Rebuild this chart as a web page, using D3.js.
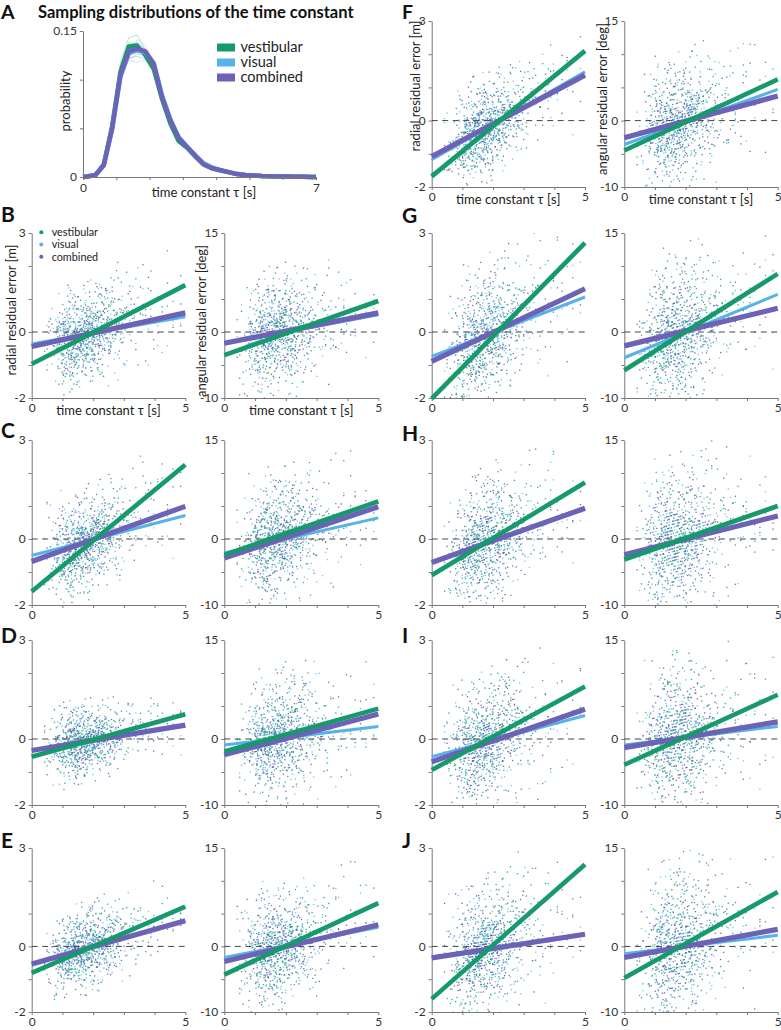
<!DOCTYPE html>
<html><head><meta charset="utf-8">
<script src="https://cdn.jsdelivr.net/npm/d3@7"></script>
<style>body{margin:0;background:#fff} svg text{font-family:Lato,"Open Sans",sans-serif}</style>
</head><body><svg id="c" width="781" height="1030"></svg>
<script>
// ---------- DATA ----------
const seriesNames = ["vestibular", "visual", "combined"];
const seriesColors = ["#16996b", "#56b2e8", "#6c63b7"];
const dotColors = ["#1a9e70", "#5bb8ea", "#5b51b0"];

// Panel A: sampling distributions of tau
const distTau = [0,0.125,0.375,0.625,0.875,1.125,1.375,1.625,1.875,2.125,2.375,2.625,2.875,3.125,3.375,3.625,3.875,4.125,4.375,4.625,4.875,5.125,5.375,5.625,5.875,6.125,6.375,6.625,6.875,7];
const distVest = [0,0.0005,0.002,0.013,0.052,0.108,0.134,0.135,0.125,0.111,0.080,0.055,0.037,0.030,0.021,0.013,0.009,0.007,0.005,0.003,0.002,0.0015,0.001,0.0008,0.0006,0.0004,0.0003,0.0002,0.0001,0];
const distVis  = [0,0.0005,0.002,0.012,0.049,0.103,0.127,0.130,0.128,0.117,0.084,0.059,0.041,0.031,0.022,0.014,0.010,0.007,0.005,0.003,0.002,0.0015,0.001,0.0008,0.0006,0.0004,0.0003,0.0002,0.0001,0];
const distComb = [0,0.0005,0.002,0.012,0.050,0.105,0.129,0.132,0.129,0.116,0.082,0.058,0.040,0.031,0.022,0.013,0.009,0.007,0.005,0.003,0.002,0.0015,0.001,0.0008,0.0006,0.0004,0.0003,0.0002,0.0001,0];
const sampVest = [
 [0,0.0005,0.003,0.016,0.06,0.118,0.143,0.146,0.13,0.11,0.078,0.052,0.036,0.028,0.02,0.012,0.008,0.006,0.004,0.003,0.002,0.0015,0.001,0.0007,0.0005,0.0003,0.0002,0.0001,0.0001,0],
 [0,0.0004,0.002,0.01,0.045,0.1,0.122,0.124,0.121,0.112,0.085,0.06,0.042,0.032,0.023,0.015,0.01,0.007,0.005,0.004,0.003,0.002,0.0012,0.0009,0.0006,0.0004,0.0003,0.0002,0.0001,0],
 [0,0.0006,0.003,0.014,0.055,0.112,0.138,0.137,0.126,0.108,0.079,0.054,0.038,0.029,0.021,0.013,0.009,0.006,0.005,0.003,0.002,0.0014,0.001,0.0008,0.0005,0.0004,0.0003,0.0002,0.0001,0]];
const sampVis = [
 [0,0.0005,0.002,0.011,0.047,0.1,0.124,0.141,0.135,0.118,0.085,0.06,0.041,0.031,0.022,0.014,0.01,0.007,0.005,0.003,0.002,0.0015,0.001,0.0008,0.0006,0.0004,0.0003,0.0002,0.0001,0],
 [0,0.0004,0.002,0.013,0.052,0.106,0.12,0.118,0.12,0.114,0.088,0.063,0.044,0.033,0.024,0.015,0.01,0.008,0.006,0.004,0.003,0.002,0.0013,0.0009,0.0006,0.0004,0.0003,0.0002,0.0001,0],
 [0,0.0006,0.003,0.015,0.056,0.11,0.132,0.136,0.128,0.112,0.08,0.056,0.039,0.03,0.021,0.013,0.009,0.006,0.005,0.003,0.002,0.0014,0.001,0.0007,0.0005,0.0003,0.0002,0.0002,0.0001,0]];
const sampComb = [
 [0,0.0005,0.002,0.012,0.05,0.104,0.13,0.139,0.131,0.114,0.081,0.057,0.04,0.031,0.022,0.013,0.009,0.007,0.005,0.003,0.002,0.0015,0.001,0.0008,0.0006,0.0004,0.0003,0.0002,0.0001,0],
 [0,0.0004,0.002,0.011,0.046,0.098,0.121,0.126,0.127,0.118,0.087,0.061,0.043,0.033,0.023,0.014,0.01,0.007,0.005,0.004,0.003,0.002,0.0012,0.0009,0.0006,0.0004,0.0003,0.0002,0.0001,0],
 [0,0.0006,0.003,0.014,0.054,0.11,0.135,0.133,0.124,0.11,0.079,0.055,0.038,0.03,0.021,0.013,0.009,0.006,0.004,0.003,0.002,0.0014,0.001,0.0007,0.0005,0.0003,0.0002,0.0001,0.0001,0]];
const distXTicks = [0,1,2,3,4,5,6,7];
const distYTicks = [0,0.05,0.1,0.15];

// Panels B-J: regression lines, value at tau=0 and tau=5
const panelLetters = ["B","C","D","E","F","G","H","I","J"];
const radialVest = [[-0.97,1.42],[-1.59,2.25],[-0.54,0.75],[-0.81,1.21],[-1.68,2.1],[-2.02,2.7],[-1.1,1.71],[-0.94,1.59],[-1.6,2.5]];
const radialVis  = [[-0.36,0.46],[-0.5,0.71],[-0.33,0.39],[-0.54,0.78],[-1.18,1.47],[-0.74,1.06],[-0.71,0.93],[-0.54,0.71],[-0.33,0.37]];
const radialComb = [[-0.44,0.58],[-0.68,0.99],[-0.35,0.42],[-0.54,0.78],[-1.08,1.37],[-0.89,1.31],[-0.71,0.93],[-0.69,0.9],[-0.35,0.37]];
const angularVest = [[-3.5,4.7],[-2.4,5.7],[-1.9,4.6],[-4.3,6.6],[-4.5,6.2],[-5.8,8.8],[-3.1,5.0],[-3.9,6.7],[-4.8,8.3]];
const angularVis  = [[-1.8,2.6],[-2.1,3.2],[-0.9,1.9],[-1.7,2.9],[-3.6,4.7],[-3.9,5.7],[-2.4,3.5],[-0.9,1.9],[-1.1,1.7]];
const angularComb = [[-1.7,2.9],[-2.9,4.9],[-2.4,3.8],[-2.3,3.3],[-2.6,3.7],[-2.1,3.6],[-2.4,3.5],[-1.3,2.6],[-1.7,2.6]];
const radialSpread  = [0.6,0.6,0.45,0.5,0.6,0.85,0.8,0.8,0.8];
const angularSpread = [3.6,3.8,3.8,3.6,3.8,4.6,4.6,4.6,5.0];

const radialTicks = [-2,-1,0,1,2,3];
const radialTickLabels = ["-2","","0","","","3"];
const angularTicks = [-10,-5,0,5,10,15];
const angularTickLabels = ["-10","","0","","","15"];
const tauTicks = [0,1,2,3,4,5];
const tauTickLabels = ["0","","","","","5"];

// Scatter cloud samples (time constant, standardized residual)
const tauSample = [0.42,0.5,0.56,0.61,0.66,0.7,0.74,0.78,0.8,0.82,0.83,0.85,0.86,0.88,0.9,0.91,0.93,0.95,0.97,0.99,
1.0,1.01,1.02,1.03,1.04,1.05,1.06,1.07,1.08,1.09,1.1,1.11,1.12,1.13,1.14,1.15,1.16,1.17,1.18,1.19,
1.2,1.21,1.21,1.22,1.23,1.24,1.25,1.25,1.26,1.27,1.28,1.29,1.29,1.3,1.31,1.32,1.33,1.33,1.34,1.35,1.36,1.37,1.37,1.38,1.39,1.39,
1.4,1.41,1.41,1.42,1.43,1.43,1.44,1.45,1.46,1.46,1.47,1.48,1.49,1.49,1.5,1.51,1.52,1.52,1.53,1.54,1.55,1.55,1.56,1.57,1.58,1.58,1.59,1.6,
1.61,1.61,1.62,1.63,1.63,1.64,1.65,1.66,1.66,1.67,1.68,1.69,1.69,1.7,1.71,1.72,1.72,1.73,1.74,1.75,1.75,1.76,1.77,1.78,1.78,1.79,1.8,1.8,
1.81,1.82,1.83,1.83,1.84,1.85,1.86,1.87,1.88,1.88,1.89,1.9,1.91,1.92,1.92,1.93,1.94,1.95,1.96,1.96,1.97,1.98,1.99,1.99,2.0,2.0,
2.01,2.02,2.03,2.04,2.05,2.06,2.07,2.08,2.09,2.1,2.11,2.12,2.13,2.14,2.15,2.16,2.17,2.17,2.18,2.19,2.2,2.2,
2.21,2.22,2.23,2.24,2.26,2.27,2.28,2.29,2.3,2.31,2.32,2.33,2.34,2.35,2.36,2.37,2.38,2.39,
2.41,2.42,2.44,2.45,2.47,2.48,2.5,2.51,2.53,2.54,2.56,2.57,2.58,2.6,
2.62,2.64,2.66,2.68,2.7,2.72,2.74,2.76,2.78,2.8,2.82,2.85,2.87,2.9,2.92,2.95,2.97,3.0,
3.04,3.09,3.14,3.19,3.24,3.29,3.34,3.39,3.46,3.54,3.62,3.71,3.8,3.88,3.97,4.1,4.25,4.42,4.6,4.85];
const noiseSample = [0.3,-1.2,0.8,-0.1,1.6,-0.6,0.0,-2.1,0.5,1.1,
-0.4,0.2,-0.9,2.3,-0.2,0.7,-1.5,0.1,-0.7,0.4,
1.3,-0.3,0.6,-1.8,0.9,-0.5,0.2,1.9,-1.0,-0.1,
0.0,0.5,-1.3,0.3,-0.8,1.2,-0.2,0.7,2.7,-0.6,
-1.1,0.1,0.4,-0.4,1.5,-2.4,0.6,-0.3,0.9,-0.9,
0.2,-0.7,1.0,-0.1,-1.6,0.3,2.0,-0.5,0.0,0.8,
-0.3,1.4,-1.2,0.5,-0.2,0.1,-0.8,1.7,-1.4,0.4,
0.6,-0.6,0.2,-1.9,1.1,-0.4,0.3,-1.0,2.2,-0.1,
-0.5,0.9,-0.2,0.0,-1.3,1.3,-0.7,0.4,-2.6,0.7,
0.1,-1.1,1.8,-0.3,0.5,-0.8,0.2,1.0,-0.4,-1.7,
0.8,0.0,-0.6,1.2,-1.5,0.3,-0.1,2.5,-0.9,0.6,
-0.2,0.4,1.6,-1.2,0.1,-0.5,0.9,-2.0,0.3,-0.7,
1.0,-0.3,0.2,0.7,-1.0,1.4,-0.2,-0.6,0.5,-1.4,
-0.8,2.1,-0.1,0.4,0.0,-1.7,0.8,-0.4,1.1,0.2,
0.5,-0.9,1.3,-0.2,-2.2,0.6,-0.5,0.1,1.5,-1.1,
-0.4,0.3,-1.3,0.9,0.2,-0.7,2.4,-0.3,0.0,0.7,
0.4,-1.6,0.1,1.1,-0.6,0.5,-1.0,0.2,-0.1,1.9,
-0.7,0.6,-0.2,-1.4,1.7,0.0,0.3,-0.9,0.8,-0.3,
1.2,-0.1,-2.3,0.4,-0.5,0.9,-1.2,0.1,2.0,-0.6,
0.0,-0.4,0.7,-1.8,0.3,1.0,-0.2,0.5,-1.1,1.4,
-0.9,0.2,1.6,-0.3,0.6,-1.5,0.1,-0.7,0.8,2.9,
0.3,-1.3,-0.1,1.0,-0.6,0.4,1.8,-0.2,-0.8,0.0,
-1.9,0.7,0.2,-0.4,1.3,-1.0,0.5,0.1,-2.8,0.6,
0.9,-0.5,-0.3,1.5,0.0,-1.2,0.3,2.2,-0.1,-0.6];
const passMultipliers = [1, 7, 13, 19];

// ---------- LAYOUT ----------
const svg = d3.select("#c");
const defs = svg.append("defs");
const axisColor = "#777", tickTextColor = "#333", labelColor = "#222";
const plotCols = [[31.7,185.3],[224.3,378.3],[431.7,585],[624.3,777.7]];
const plotRows = [[21,187],[233,398],[440,605],[640,805],[848,1012]];
let clipCount = 0;

function styleAxis(g) {
  g.select(".domain").attr("stroke", axisColor).attr("stroke-width", 1);
  g.selectAll(".tick line").attr("stroke", axisColor);
  g.selectAll(".tick text").attr("fill", tickTextColor).attr("font-size", 12)
    .attr("font-family", "Lato, 'Open Sans', sans-serif");
}

function scatterPlot(px, py, radial, p, shift) {
  const yDomain = radial ? [-2, 3] : [-10, 15];
  const x = d3.scaleLinear().domain([0, 5]).range(px);
  const y = d3.scaleLinear().domain(yDomain).range([py[1], py[0]]);
  const g = svg.append("g");
  const cid = "clip" + (clipCount++);
  defs.append("clipPath").attr("id", cid).append("rect")
    .attr("x", px[0]).attr("y", py[0]).attr("width", px[1] - px[0]).attr("height", py[1] - py[0]);
  const lines = radial ? [radialVest[p], radialVis[p], radialComb[p]] : [angularVest[p], angularVis[p], angularComb[p]];
  const sd = radial ? radialSpread[p] : angularSpread[p];
  const N = tauSample.length, M = noiseSample.length;
  const pts = [];
  passMultipliers.forEach((m, k) => {
    for (let i = 0; i < N; i++) {
      const s = (i + k + p) % 3;
      const ln = lines[s];
      const t = tauSample[i];
      const z = noiseSample[(i * m + shift + k * 53) % M];
      pts.push({ t, v: ln[0] + (ln[1] - ln[0]) * t / 5 + z * sd, s });
    }
  });
  g.append("g").attr("clip-path", `url(#${cid})`).selectAll("rect").data(pts).join("rect")
    .attr("x", d => x(d.t) - 0.65).attr("y", d => y(d.v) - 0.65)
    .attr("width", 1.3).attr("height", 1.3)
    .attr("fill", d => dotColors[d.s]).attr("opacity", 0.85);

  const yAxis = d3.axisLeft(y).tickValues(radial ? radialTicks : angularTicks)
    .tickFormat((d, i) => (radial ? radialTickLabels : angularTickLabels)[i])
    .tickSize(3).tickSizeOuter(0).tickPadding(3);
  g.append("g").attr("transform", `translate(${px[0]},0)`).call(yAxis).call(styleAxis);
  const xAxis = d3.axisBottom(x).tickValues(tauTicks)
    .tickFormat((d, i) => tauTickLabels[i]).tickSize(3).tickSizeOuter(0).tickPadding(2);
  g.append("g").attr("transform", `translate(0,${py[1]})`).call(xAxis).call(styleAxis);

  g.append("line").attr("x1", x(0)).attr("x2", x(5)).attr("y1", y(0)).attr("y2", y(0))
    .attr("stroke", "#444").attr("stroke-width", 1).attr("stroke-dasharray", "6,4.5");

  const order = [1, 2, 0], widths = [4.6, 3, 5.2];
  order.forEach(s => {
    g.append("line").attr("x1", x(0)).attr("x2", x(5))
      .attr("y1", y(lines[s][0])).attr("y2", y(lines[s][1]))
      .attr("stroke", seriesColors[s]).attr("stroke-width", widths[s]);
  });
  return { x, y, g };
}

function text(x, y, str, opts = {}) {
  const t = svg.append("text").attr("x", x).attr("y", y).text(str)
    .attr("font-size", opts.size || 13).attr("fill", opts.fill || labelColor)
    .attr("text-anchor", opts.anchor || "start");
  if (opts.family) t.attr("font-family", opts.family);
  if (opts.bold) t.attr("font-weight", "bold");
  if (opts.rotate) t.attr("transform", `rotate(-90,${x},${y})`);
  return t;
}

// ---------- PANEL A ----------
(function () {
  const x = d3.scaleLinear().domain([0, 7]).range([83, 316]);
  const y = d3.scaleLinear().domain([0, 0.15]).range([177, 31]);
  const line = d3.line().x((d, i) => x(distTau[i])).y(d => y(d));
  const g = svg.append("g");
  const thin = [[sampVest, "#5cc29a"], [sampVis, "#8fd0f2"], [sampComb, "#9d97d4"]];
  thin.forEach(([arr, c]) => arr.forEach(a => g.append("path").attr("d", line(a))
    .attr("fill", "none").attr("stroke", c).attr("stroke-width", 0.8).attr("opacity", 0.55)));
  [[distVest, 0, 4.5], [distVis, 1, 4.5], [distComb, 2, 4.5]].forEach(([arr, s, w]) => {
    g.append("path").attr("d", line(arr)).attr("fill", "none")
      .attr("stroke", seriesColors[s]).attr("stroke-width", w).attr("stroke-linejoin", "round");
  });
  const xa = d3.axisBottom(x).tickValues(distXTicks).tickFormat(d => (d === 0 || d === 7) ? d : "")
    .tickSize(3).tickSizeOuter(0).tickPadding(3);
  g.append("g").attr("transform", "translate(0,177)").call(xa).call(styleAxis);
  const ya = d3.axisLeft(y).tickValues(distYTicks).tickFormat(d => d === 0 ? "0" : d === 0.15 ? "0.15" : "")
    .tickSize(3).tickSizeOuter(0).tickPadding(3);
  g.append("g").attr("transform", "translate(83,0)").call(ya).call(styleAxis);
  text(204, 197, "time constant τ [s]", { anchor: "middle" });
  text(70, 101, "probability", { anchor: "middle", rotate: true });
  // legend
  seriesNames.forEach((n, i) => {
    svg.append("rect").attr("x", 217).attr("y", 43.5 + i * 15).attr("width", 18).attr("height", 8)
      .attr("fill", seriesColors[i]);
    text(240.5, 51.7 + i * 15, n, { size: 14.5 });
  });
  text(1, 18.5, "A", { size: 19.5, bold: true, fill: "#111" });
  text(38, 18, "Sampling distributions of the time constant", { size: 16.5, bold: true, fill: "#111" });
})();

// ---------- PANELS B-J ----------
const letterPos = [[1,222],[1,438],[1,643],[1,848],[402,18.5],[402,223],[402,441],[402,643],[402,848]];
panelLetters.forEach((L, p) => {
  const row = p < 4 ? p + 1 : p - 4;
  const cL = p < 4 ? 0 : 2;
  const py = plotRows[row];
  scatterPlot(plotCols[cL], py, true, p, p * 37);
  scatterPlot(plotCols[cL + 1], py, false, p, p * 37 + 101);
  text(letterPos[p][0], letterPos[p][1], L, { size: p === 4 ? 19.5 : 21, bold: true, fill: "#111" });
  if (L === "B" || L === "F") {
    const pxL = plotCols[cL], pxR = plotCols[cL + 1];
    text((pxL[0] + pxL[1]) / 2, py[1] + 17, "time constant τ [s]", { anchor: "middle" });
    text((pxR[0] + pxR[1]) / 2, py[1] + 17, "time constant τ [s]", { anchor: "middle" });
  }
});
// y axis labels
text(16, 310, "radial residual error [m]", { anchor: "middle", rotate: true });
text(206, 321, "angular residual error [deg]", { anchor: "middle", rotate: true });
text(420, 86, "radial residual error [m]", { anchor: "middle", rotate: true });
text(607, 99, "angular residual error [deg]", { anchor: "middle", rotate: true });

// legend in B
seriesNames.forEach((n, i) => {
  svg.append("circle").attr("cx", 41.3).attr("cy", 232.3 + i * 12.2).attr("r", 2)
    .attr("fill", seriesColors[i]);
  text(51.7, 236.2 + i * 12.2, n, { size: 10.8, family: "'Liberation Sans', Arial, sans-serif" });
});
</script></body></html>
